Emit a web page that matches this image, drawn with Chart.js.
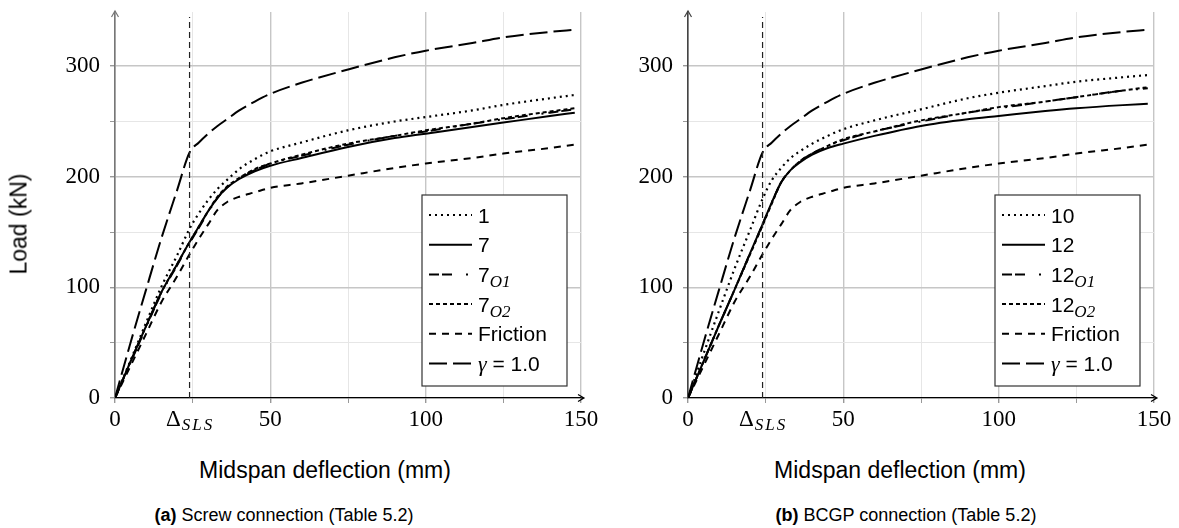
<!DOCTYPE html>
<html>
<head>
<meta charset="utf-8">
<script src="https://cdn.jsdelivr.net/npm/chart.js@4.4.0/dist/chart.umd.min.js"></script>
<style>
  body { margin: 0; background: #fff; width: 1179px; height: 528px; position: relative; overflow: hidden;
         font-family: 'Liberation Sans', Arial, sans-serif; }
  canvas { position: absolute; top: 0; }
  .lbl { position: absolute; transform: translate(-50%, -50%); white-space: nowrap; line-height: 1; color: #000; }
</style>
</head>
<body>
<canvas id="chartA" width="600" height="440" style="left:0"></canvas>
<canvas id="chartB" width="589" height="440" style="left:590px"></canvas>
<div class="lbl" style="left:19px;top:224px;font-size:23px;transform:translate(-50%,-50%) rotate(-90deg)">Load (kN)</div>
<div class="lbl" style="left:325px;top:470px;font-size:23px">Midspan deflection (mm)</div>
<div class="lbl" style="left:900px;top:470px;font-size:23px">Midspan deflection (mm)</div>
<div class="lbl" style="left:284px;top:515px;font-size:18px"><b>(a)</b> Screw connection (Table 5.2)</div>
<div class="lbl" style="left:906px;top:515px;font-size:18px"><b>(b)</b> BCGP connection (Table 5.2)</div>
<script>
// midspan deflection (mm), shared by every curve
const deflection = [0, 5, 10, 15, 20, 24, 27, 30, 33, 36, 40, 45, 50, 60, 75, 90, 100, 115, 125, 140, 148];

// load (kN) - same reference curves in both panels
const gammaOne = [0, 50, 98, 145, 188, 222, 231, 239, 246, 252, 260, 268, 275, 285, 297, 308, 314, 321, 326, 331, 333];
const friction = [0, 29, 58, 87, 110, 130, 144, 157, 170, 177, 182, 186, 190, 194, 201, 208, 212, 217, 221, 226, 229];

// (a) screw connection
const screw1   = [0, 34, 68, 101, 129, 153, 167, 179, 189, 197, 207, 216, 223, 231, 242, 250, 254, 260, 265, 271, 274];
const screw7   = [0, 33, 65, 96, 121, 141, 155, 169, 181, 190, 198, 205, 210, 217, 227, 235, 239, 245, 249, 255, 258];
const screw7O1 = [0, 32, 64, 95, 120, 140, 154, 168, 181, 190, 199, 206, 212, 219, 229, 237, 241, 248, 252, 258, 261];
const screw7O2 = [0, 33, 65, 96, 121, 141, 155, 169, 182, 191, 199, 207, 212, 220, 230, 237, 242, 248, 253, 259, 262];

// (b) BCGP connection
const bcgp10   = [0, 40, 79, 117, 152, 180, 197, 208, 217, 223, 230, 237, 243, 251, 261, 271, 276, 282, 286, 290, 292];
const bcgp12   = [0, 33, 66, 98, 131, 157, 177, 195, 206, 213, 220, 226, 230, 237, 246, 252, 255, 259.5, 262, 264.8, 266];
const bcgp12O1 = [0, 33, 66, 98, 131, 157, 177, 195, 206, 214, 221, 228, 233, 241, 250, 258, 262, 268, 272, 278, 280];
const bcgp12O2 = [0, 33, 66, 98, 130, 156, 176, 195, 206, 214, 221, 228, 234, 241, 251, 258, 263, 268, 272, 278, 281];

const xTicks = [0, 25, 50, 75, 100, 125, 150];
const xLabels = [0, 50, 100, 150];
const yTicks = [0, 50, 100, 150, 200, 250, 300];
const yLabels = [0, 100, 200, 300];
const deltaSLS = 24;

const SERIF = "'Liberation Serif', 'DejaVu Serif', serif";
const SANS = "'Liberation Sans', Arial, sans-serif";

// line styles
const DOTTED   = { dash: [2, 4], width: 2.2 };
const SOLID    = { dash: [], width: 2 };
const DASHDOT  = { dash: [10, 3, 10, 14, 2, 5], width: 2 };
const DENSE    = { dash: [4, 3], width: 2 };
const DASHED   = { dash: [7, 6], width: 2 };
const LONGDASH = { dash: [18, 6], width: 2 };

const sub = (t, s) => [[t, '21px ' + SANS, 0], [s, 'italic 17px ' + SERIF, 5]];
const gammaLabel = [['\u03b3', 'italic 22px ' + SERIF, 0], [' = 1.0', '21px ' + SANS, 0]];

// draw legend, axis arrows and the SLS marker
const decor = {
  id: 'decor',
  afterDraw(chart, args, opts) {
    const ctx = chart.ctx, a = chart.chartArea;
    const xs = chart.scales.x, ys = chart.scales.y;
    ctx.save();

    // SLS line
    const dx = xs.getPixelForValue(deltaSLS);
    ctx.strokeStyle = '#222'; ctx.lineWidth = 1.2; ctx.setLineDash([6, 4]);
    ctx.beginPath(); ctx.moveTo(dx, ys.getPixelForValue(0)); ctx.lineTo(dx, a.top + 5); ctx.stroke();
    ctx.setLineDash([]);

    // SLS label
    ctx.fillStyle = '#000';
    ctx.font = '23px ' + SERIF;
    const wD = ctx.measureText('\u0394').width;
    ctx.font = 'italic 17px ' + SERIF;
    ctx.letterSpacing = '2px';
    const wS = ctx.measureText('SLS').width;
    let lx = dx - (wD + wS) / 2;
    ctx.letterSpacing = '0px';
    ctx.font = '23px ' + SERIF; ctx.textBaseline = 'alphabetic'; ctx.textAlign = 'left';
    ctx.fillText('\u0394', lx, a.bottom + 28);
    ctx.font = 'italic 17px ' + SERIF; ctx.letterSpacing = '2px';
    ctx.fillText('SLS', lx + wD + 1, a.bottom + 32);
    ctx.letterSpacing = '0px';

    // axis arrows
    ctx.lineWidth = 1.2; ctx.strokeStyle = '#000';
    const tx = a.right + 3, by = a.bottom;
    ctx.beginPath(); ctx.moveTo(a.right, by); ctx.lineTo(tx, by);
    ctx.moveTo(tx - 6, by - 3.5); ctx.lineTo(tx, by); ctx.lineTo(tx - 6, by + 3.5); ctx.stroke();
    ctx.strokeStyle = opts.axisColor;
    ctx.beginPath(); ctx.moveTo(a.left - 3.5, a.top + 5); ctx.lineTo(a.left, a.top - 1); ctx.lineTo(a.left + 3.5, a.top + 5); ctx.stroke();

    // legend
    const w = 145, h = 191;
    const x0 = a.right - 14 - w, y0 = a.bottom - 12 - h;
    ctx.fillStyle = '#fff'; ctx.fillRect(x0, y0, w, h);
    ctx.strokeStyle = '#333'; ctx.lineWidth = 1.2; ctx.strokeRect(x0, y0, w, h);
    opts.entries.forEach((e, i) => {
      const cy = y0 + 20 + i * 29.7;
      ctx.strokeStyle = '#000'; ctx.lineWidth = e.style.width; ctx.setLineDash(e.style.dash);
      ctx.beginPath(); ctx.moveTo(x0 + 7, cy); ctx.lineTo(x0 + 50, cy); ctx.stroke();
      ctx.setLineDash([]);
      let tx2 = x0 + 56;
      ctx.fillStyle = '#000'; ctx.textBaseline = 'alphabetic';
      e.parts.forEach(p => {
        ctx.font = p[1];
        ctx.fillText(p[0], tx2, cy + 7.5 + p[2]);
        tx2 += ctx.measureText(p[0]).width;
      });
    });
    ctx.restore();
  }
};

function gridColor(c) {
  const v = c.tick ? c.tick.value : 0;
  return (v % 100 === 0 && c.scale.axis === 'y') || (v % 50 === 0 && c.scale.axis === 'x') ? '#c6c6c6' : '#e6e6e6';
}

function makeChart(id, series, yWidth, padRight, axisColor) {
  new Chart(document.getElementById(id), {
    type: 'line',
    data: {
      datasets: series.map(s => ({
        label: s.label,
        data: deflection.map((x, i) => ({ x: x, y: s.values[i] })),
        borderColor: '#000',
        borderWidth: s.style.width,
        borderDash: s.style.dash,
        borderCapStyle: 'butt',
        pointRadius: 0,
        fill: false,
        cubicInterpolationMode: 'monotone'
      }))
    },
    options: {
      responsive: false,
      animation: false,
      devicePixelRatio: 1,
      layout: { padding: { left: 0, top: 12, right: padRight, bottom: 0 } },
      plugins: {
        legend: { display: false },
        tooltip: { enabled: false },
        decor: { entries: series.map(s => ({ style: s.style, parts: s.parts })), axisColor: axisColor }
      },
      scales: {
        x: {
          type: 'linear', min: 0, max: 150,
          afterBuildTicks: s => { s.ticks = xTicks.map(v => ({ value: v })); },
          afterFit: s => { s.height = 42; s.paddingLeft = 0; s.paddingRight = 0; },
          grid: { color: gridColor, lineWidth: c => gridColor(c) === '#c6c6c6' ? 1.4 : 1, tickLength: 5, tickColor: '#999' },
          border: { color: '#000', width: 1.3 },
          ticks: {
            autoSkip: false, maxRotation: 0, padding: 3, color: '#000',
            font: { family: SERIF, size: 23 },
            callback: v => xLabels.includes(v) ? String(v) : ''
          }
        },
        y: {
          type: 'linear', min: 0, max: 349,
          afterBuildTicks: s => { s.ticks = yTicks.map(v => ({ value: v })); },
          afterFit: s => { s.width = yWidth; s.paddingTop = 0; s.paddingBottom = 0; },
          grid: { color: gridColor, lineWidth: c => gridColor(c) === '#c6c6c6' ? 1.4 : 1, tickLength: 5, tickColor: '#999' },
          border: { color: axisColor, width: 1.6 },
          ticks: {
            autoSkip: false, padding: 10, color: '#000',
            font: { family: SERIF, size: 23 },
            callback: v => yLabels.includes(v) ? String(v) : ''
          }
        }
      }
    },
    plugins: [decor]
  });
}

makeChart('chartA', [
  { label: '1', values: screw1, style: DOTTED, parts: [['1', '21px ' + SANS, 0]] },
  { label: '7', values: screw7, style: SOLID, parts: [['7', '21px ' + SANS, 0]] },
  { label: '7_O1', values: screw7O1, style: DASHDOT, parts: sub('7', 'O1') },
  { label: '7_O2', values: screw7O2, style: DENSE, parts: sub('7', 'O2') },
  { label: 'Friction', values: friction, style: DASHED, parts: [['Friction', '21px ' + SANS, 0]] },
  { label: 'gamma = 1.0', values: gammaOne, style: LONGDASH, parts: gammaLabel }
], 115, 19, '#777');

makeChart('chartB', [
  { label: '10', values: bcgp10, style: DOTTED, parts: [['10', '21px ' + SANS, 0]] },
  { label: '12', values: bcgp12, style: SOLID, parts: [['12', '21px ' + SANS, 0]] },
  { label: '12_O1', values: bcgp12O1, style: DASHDOT, parts: sub('12', 'O1') },
  { label: '12_O2', values: bcgp12O2, style: DENSE, parts: sub('12', 'O2') },
  { label: 'Friction', values: friction, style: DASHED, parts: [['Friction', '21px ' + SANS, 0]] },
  { label: 'gamma = 1.0', values: gammaOne, style: LONGDASH, parts: gammaLabel }
], 98, 25, '#444');
</script>
</body>
</html>
